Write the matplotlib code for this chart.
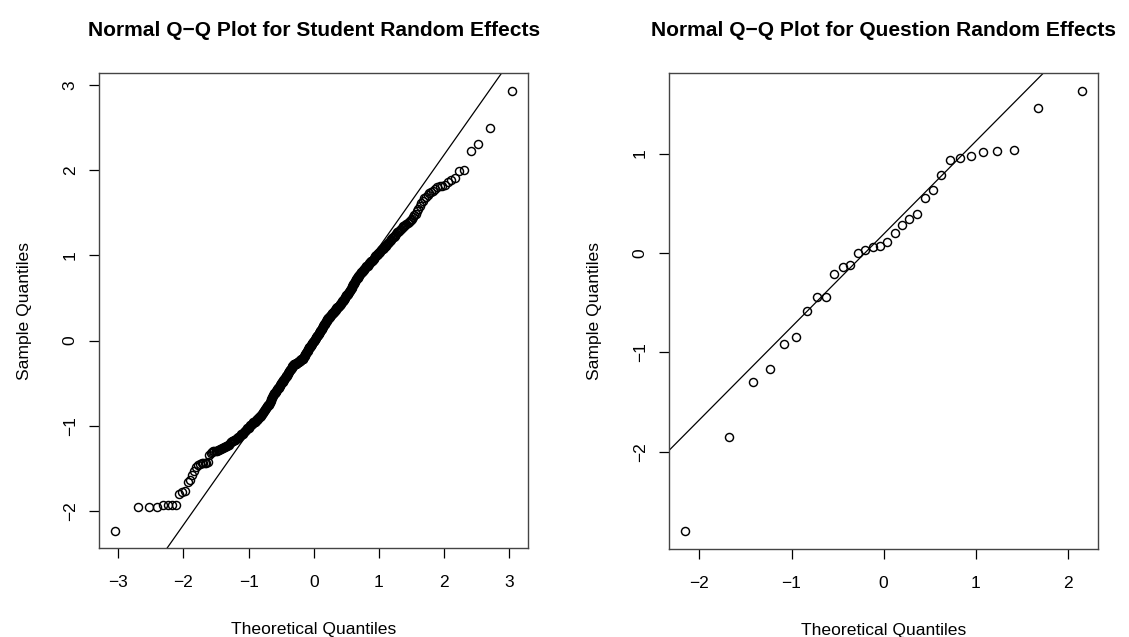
import numpy as np
import matplotlib
matplotlib.use("Agg")
import matplotlib.pyplot as plt
from statistics import NormalDist

plt.rcParams['font.family'] = ['Liberation Sans', 'DejaVu Sans']

# Sorted student random effects (sample quantiles)
student_re = [
    -2.23, -1.95, -1.95, -1.95, -1.93, -1.93, -1.93, -1.93, -1.80, -1.78, -1.77, -1.66, -1.63, -1.58, -1.53,
    -1.48, -1.46, -1.45, -1.44, -1.44, -1.43, -1.43, -1.42, -1.34, -1.32,
    -1.31, -1.30, -1.30, -1.29, -1.29, -1.28, -1.28, -1.27, -1.27, -1.26, -1.26, -1.25, -1.25, -1.24, -1.24, -1.23, -1.22,
    -1.20,
    -1.19, -1.19, -1.18, -1.18, -1.17, -1.16, -1.16, -1.15, -1.14, -1.14, -1.13, -1.13,
    -1.12,
    -1.11, -1.10, -1.09, -1.09, -1.08, -1.07, -1.06, -1.06, -1.05, -1.04, -1.03, -1.02, -1.02, -1.01,
    -1.00,
    -0.99, -0.99, -0.98, -0.98, -0.97, -0.96, -0.96, -0.95, -0.95, -0.94, -0.93, -0.93, -0.92, -0.92, -0.91, -0.90, -0.90,
    -0.89,
    -0.88, -0.87, -0.86, -0.86, -0.85, -0.84, -0.83, -0.82, -0.81, -0.80, -0.79, -0.79, -0.78, -0.77, -0.76, -0.75, -0.75, -0.74,
    -0.73,
    -0.72, -0.71, -0.70, -0.69, -0.67, -0.66, -0.65,
    -0.64,
    -0.63, -0.62, -0.62, -0.61, -0.60, -0.59, -0.59, -0.58, -0.57, -0.56, -0.55, -0.55, -0.54, -0.53, -0.52, -0.52, -0.51,
    -0.50, -0.49, -0.49, -0.48,
    -0.47,
    -0.46, -0.46, -0.45, -0.44, -0.44, -0.43, -0.42, -0.41, -0.41, -0.40, -0.39, -0.38, -0.38, -0.37, -0.36, -0.35, -0.35,
    -0.34, -0.33, -0.33, -0.32, -0.31, -0.30, -0.30,
    -0.29,
    -0.29, -0.28, -0.28, -0.28, -0.27, -0.27, -0.27, -0.26, -0.26, -0.26, -0.25, -0.25, -0.25, -0.25, -0.24, -0.24, -0.24,
    -0.23, -0.23, -0.23, -0.22, -0.22, -0.22, -0.21,
    -0.21,
    -0.20, -0.19, -0.18, -0.18, -0.17, -0.16, -0.15, -0.15, -0.14, -0.13, -0.12, -0.12, -0.11, -0.10, -0.09, -0.09, -0.08,
    -0.07, -0.07, -0.06, -0.05,
    -0.05,
    -0.04, -0.04, -0.03, -0.02, -0.02, -0.01, 0.00, 0.00, 0.01, 0.02, 0.03, 0.03, 0.04, 0.05, 0.05, 0.06, 0.07, 0.07, 0.08,
    0.09, 0.09,
    0.10,
    0.11, 0.11, 0.12, 0.13, 0.14, 0.14, 0.15, 0.16, 0.17, 0.17, 0.18, 0.19, 0.20, 0.20, 0.21, 0.22, 0.23, 0.23, 0.24, 0.25, 0.25,
    0.26,
    0.27, 0.27, 0.28, 0.28, 0.29, 0.29, 0.30, 0.30, 0.31, 0.31, 0.32, 0.33, 0.33, 0.34, 0.34, 0.35, 0.35, 0.36, 0.36, 0.37,
    0.38, 0.38, 0.39, 0.39, 0.40, 0.40, 0.41, 0.41, 0.42,
    0.42,
    0.43, 0.43, 0.44, 0.45, 0.46, 0.46, 0.47, 0.48, 0.48, 0.49, 0.50, 0.50, 0.51, 0.52, 0.53, 0.53, 0.54, 0.55, 0.55, 0.56,
    0.57, 0.57,
    0.58,
    0.59, 0.60, 0.61, 0.62, 0.63, 0.64, 0.65, 0.66, 0.67, 0.68, 0.69, 0.70, 0.71, 0.72,
    0.73,
    0.74, 0.74, 0.75, 0.76, 0.76, 0.77, 0.78, 0.78, 0.79, 0.80, 0.81, 0.81, 0.82, 0.83, 0.83, 0.84, 0.85, 0.85, 0.86,
    0.87,
    0.88, 0.88, 0.89, 0.90, 0.91, 0.91, 0.92, 0.93, 0.93, 0.94, 0.94,
    0.95,
    0.96, 0.97, 0.98, 0.99, 1.00, 1.00, 1.01, 1.02, 1.03, 1.03,
    1.04,
    1.05, 1.06, 1.07, 1.08, 1.08, 1.09, 1.10, 1.11, 1.11,
    1.12,
    1.13, 1.14, 1.15, 1.16, 1.17, 1.18, 1.19, 1.20, 1.21, 1.22, 1.23, 1.24,
    1.25,
    1.27, 1.28, 1.29, 1.30, 1.31, 1.32, 1.33, 1.34, 1.35, 1.36, 1.37, 1.38, 1.39, 1.40, 1.42, 1.43, 1.45, 1.47, 1.49, 1.52,
    1.55, 1.58, 1.61, 1.64, 1.67, 1.69, 1.71, 1.73, 1.74, 1.76, 1.78, 1.80, 1.81, 1.82, 1.83, 1.86, 1.89, 1.91, 1.99, 2.00,
    2.23, 2.31, 2.49, 2.93,
]

# Sorted question random effects
question_re = [
    -2.80, -1.85, -1.30, -1.17, -0.92, -0.84, -0.58, -0.44, -0.44, -0.21, -0.14, -0.12, 0.00, 0.03, 0.06, 0.07,
    0.11, 0.20, 0.28, 0.34, 0.39, 0.55, 0.63, 0.78, 0.94, 0.96, 0.98, 1.02, 1.03, 1.04, 1.46, 1.63,
]

titles = ["Normal Q\u2212Q Plot for Student Random Effects",
          "Normal Q\u2212Q Plot for Question Random Effects"]
xticks_list = [[-3, -2, -1, 0, 1, 2, 3], [-2, -1, 0, 1, 2]]
yticks_list = [[-2, -1, 0, 1, 2, 3], [-2, -1, 0, 1]]

nd = NormalDist()


def ppoints(n):
    a = 3 / 8 if n <= 10 else 0.5
    return [(i + 1 - a) / (n + 1 - 2 * a) for i in range(n)]


def rng(v):
    lo, hi = min(v), max(v)
    d = (hi - lo) * 0.04
    return lo - d, hi + d


W, H = 1129, 637
fig = plt.figure(figsize=(W / 100, H / 100), dpi=100)
axes_px = [(99.3, 73.3, 528.3, 548.3), (669.3, 73.3, 1098.0, 549.0)]
spine_col = '#444444'

for k, data in enumerate([student_re, question_re]):
    l, t, r, b = axes_px[k]
    ax = fig.add_axes([l / W, 1 - b / H, (r - l) / W, (b - t) / H])
    y = np.sort(np.array(data, dtype=float))
    x = np.array([nd.inv_cdf(p) for p in ppoints(len(y))])
    ax.plot(x, y, linestyle='none', marker='o', markersize=5.8, markerfacecolor='none',
            markeredgecolor='black', markeredgewidth=1.05)
    # qqline through the quartiles
    yq = np.quantile(y, [0.25, 0.75])
    xq = np.array([nd.inv_cdf(0.25), nd.inv_cdf(0.75)])
    slope = (yq[1] - yq[0]) / (xq[1] - xq[0])
    inter = yq[0] - slope * xq[0]
    ax.axline((0, inter), slope=slope, color='black', linewidth=0.9)
    ax.set_xlim(*rng(x))
    ax.set_ylim(*rng(y))
    ax.set_xticks(xticks_list[k])
    ax.set_yticks(yticks_list[k])
    ax.tick_params(axis='both', direction='out', length=7.5, width=0.9, colors='black',
                   labelsize=12.5)
    ax.tick_params(axis='x', pad=12)
    ax.tick_params(axis='y', pad=8)
    for lab in ax.get_yticklabels():
        lab.set_rotation(90)
        lab.set_va('center')
    for s in ax.spines.values():
        s.set_color(spine_col)
        s.set_linewidth(1.0)
    ax.set_xlabel("Theoretical Quantiles", fontsize=12.6, labelpad=23)
    ax.set_ylabel("Sample Quantiles", fontsize=12.6, labelpad=22)
    ax.set_title(titles[k], fontsize=15.1, fontweight='bold', pad=27)

fig.savefig("out.png", dpi=100, facecolor='white')
